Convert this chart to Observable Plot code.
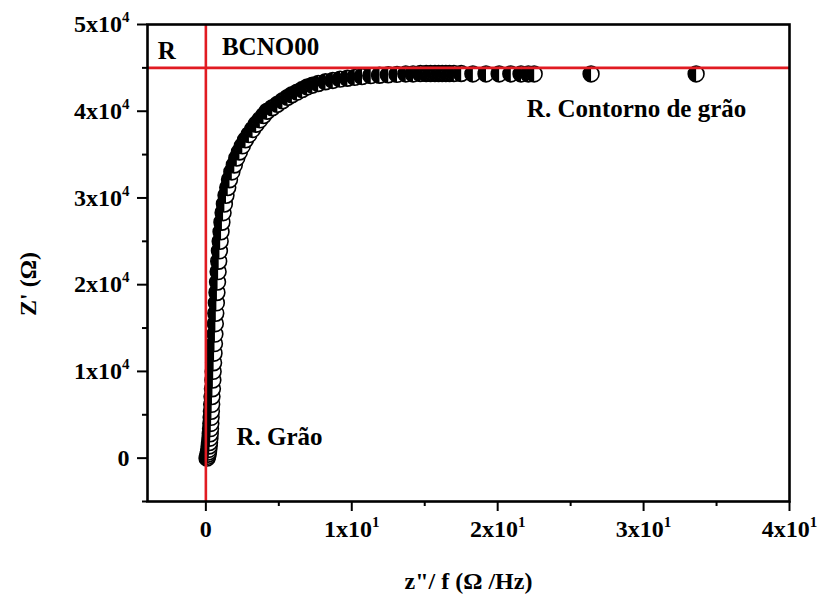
<!DOCTYPE html>
<html><head><meta charset="utf-8">
<script src="https://cdn.jsdelivr.net/npm/d3@7"></script>
<script src="https://cdn.jsdelivr.net/npm/@observablehq/plot@0.6"></script>
<style>body{margin:0;background:#fff;} svg{display:block}</style>
</head><body><div id="chart"></div>
<script>
// Z''/f (Ω/Hz) values
const zf = [0.08,0.12,0.15,0.18,0.2,0.23,0.25,0.28,0.3,0.32,
  0.34,0.36,0.38,0.4,0.42,0.45,0.48,0.5,0.53,0.56,
  0.59,0.62,0.65,0.68,0.72,0.76,0.8,0.84,0.88,0.93,
  0.98,1.04,1.1,1.18,1.27,1.38,1.5,1.62,1.78,1.95,
  2.12,2.3,2.5,2.72,2.95,3.2,3.45,3.7,3.95,4.2,
  4.55,4.9,5.25,5.6,5.9,6.25,6.6,6.95,7.3,7.7,
  8.2,8.7,9.2,9.7,10.2,10.7,11.3,11.9,12.5,13.1,
  13.7,14.2,14.7,15.1,15.4,15.7,15.95,16.2,16.45,16.7,
  17.0,17.5,18.3,19.2,20.1,20.9,21.6,22.1,22.5,26.4,
  33.6];
// Z' (Ω) values
const zr = [0,200,450,700,1000,1400,1800,2300,2800,3400,
  4000,4700,5400,6200,7100,8000,9000,10000,11000,12100,
  13200,14300,15500,16700,17900,19100,20300,21500,22700,23900,
  25000,26100,27200,28300,29300,30300,31200,32100,33000,33800,
  34600,35300,36000,36700,37300,37900,38500,39000,39500,40000,
  40400,40800,41200,41600,41900,42200,42500,42800,43000,43200,
  43400,43550,43700,43800,43900,44000,44100,44150,44200,44250,
  44300,44300,44350,44350,44350,44350,44350,44350,44350,44350,
  44350,44350,44300,44300,44300,44300,44300,44300,44300,44300,
  44300];

const yTicks = [0,10000,20000,30000,40000,50000];
const yTickLabels = ["0","1x10^4","2x10^4","3x10^4","4x10^4","5x10^4"];
const yMinor = [-5000,5000,15000,25000,35000,45000];
const xTicks = [0,10,20,30,40];
const xTickLabels = ["0","1x10^1","2x10^1","3x10^1","4x10^1"];
const xMinor = [5,15,25,35];

const refX = [0];       // R. Grão line
const refY = [45000];   // R. Contorno de grão line

const noteText = ["R","BCNO00","R. Contorno de grão","R. Grão"];
const noteX = [-3.3, 1.1, 22.0, 2.1];
const noteY = [46900, 47400, 40200, 2400];

const xLabel = "z\"/ f (Ω /Hz)";
const yLabel = "Z' (Ω)";
const yLabelAt = [16400];

const pts = zf.map((x, i) => ({x, y: zr[i]}));

const halfLeft = {
  draw(ctx, size) {
    const r = Math.sqrt(size / Math.PI);
    ctx.moveTo(0, -r);
    ctx.arc(0, 0, r, -Math.PI / 2, Math.PI / 2, true);
    ctx.closePath();
  }
};
const R = 7.9;
const red = "#e11b22";

const dotMarks = pts.flatMap(p => [
  Plot.dot([p], {x: "x", y: "y", r: R, fill: "white", stroke: "black", strokeWidth: 1.6}),
  Plot.dot([p], {x: "x", y: "y", r: R, symbol: halfLeft, fill: "black", stroke: "none"})
]);

const chart = Plot.plot({
  width: 821, height: 599,
  marginLeft: 147, marginRight: 32, marginTop: 24, marginBottom: 98,
  x: {domain: [-4, 40]},
  y: {domain: [-5000, 50000]},
  style: {fontFamily: "'Liberation Serif', 'Times New Roman', serif", fontSize: "24px", fontWeight: "bold", background: "white", color: "black"},
  marks: [
    ...dotMarks,
    Plot.ruleX(refX, {stroke: red, strokeWidth: 2.6}),
    Plot.ruleY(refY, {stroke: red, strokeWidth: 2.6}),
    Plot.frame({stroke: "black", strokeWidth: 2.6}),
    Plot.axisY(yTicks, {tickSize: 10, tickPadding: 8, strokeWidth: 2, label: null,
      tickFormat: d => yTickLabels[yTicks.indexOf(d)]}),
    Plot.axisY(yMinor, {tickSize: 5, strokeWidth: 2, label: null, tickFormat: () => ""}),
    Plot.axisX(xTicks, {tickSize: 10, tickPadding: 8, strokeWidth: 2, label: null,
      tickFormat: d => xTickLabels[xTicks.indexOf(d)]}),
    Plot.axisX(xMinor, {tickSize: 5, strokeWidth: 2, label: null, tickFormat: () => ""}),
    Plot.text(noteText, {x: (d, i) => noteX[i], y: (d, i) => noteY[i], text: d => d,
      textAnchor: "start", lineAnchor: "middle", fill: "black", fontSize: 25}),
    Plot.text([yLabel], {y: () => yLabelAt[0], frameAnchor: "left", dx: -119, rotate: -90,
      textAnchor: "start", text: d => d, fill: "black"}),
    Plot.text([xLabel], {frameAnchor: "bottom", dy: 87, text: d => d, fill: "black"})
  ]
});

// superscripts for "ax10^n" labels
chart.querySelectorAll("text").forEach(t => {
  const s = t.textContent;
  if (s.includes("^")) {
    const [base, exp] = s.split("^");
    t.textContent = "";
    const ns = "http://www.w3.org/2000/svg";
    const a = document.createElementNS(ns, "tspan");
    a.textContent = base;
    const b = document.createElementNS(ns, "tspan");
    b.textContent = exp;
    b.setAttribute("dy", "-10");
    b.setAttribute("font-size", "15");
    t.appendChild(a); t.appendChild(b);
  }
});

document.getElementById("chart").appendChild(chart);
</script>
</body></html>
